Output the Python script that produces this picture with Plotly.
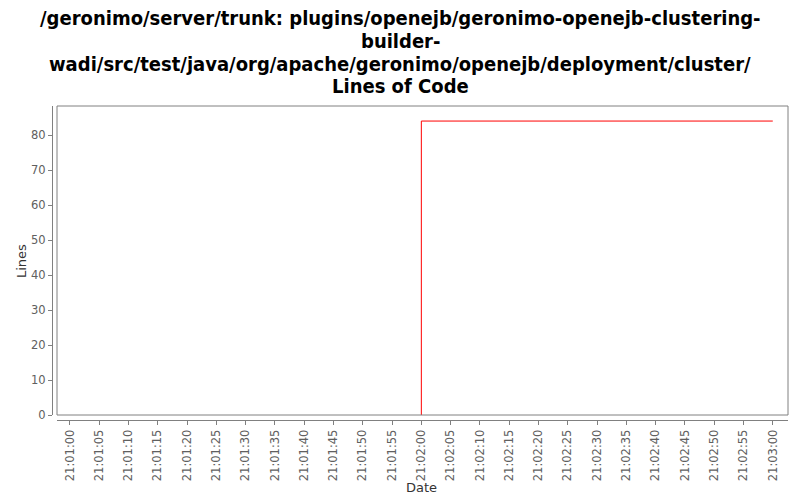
import plotly.graph_objects as go

title_lines = [
    "/geronimo/server/trunk: plugins/openejb/geronimo-openejb-clustering-",
    "builder-",
    "wadi/src/test/java/org/apache/geronimo/openejb/deployment/cluster/",
    "Lines of Code",
]
x_title = "Date"
y_title = "Lines"
dates = ["2007-06-01 21:02:00", "2007-06-01 21:03:00"]
lines = [0, 84]
x_range = ["2007-06-01 21:00:57.8", "2007-06-01 21:03:02.6"]
y_range = [0, 88.3]

W, H = 800, 500
ml, mr, mt, mb = 52, 12, 106, 80
pw, ph = W - ml - mr, H - mt - mb
gap = 5
title_centers_px = [18, 41, 64, 86]

fig = go.Figure()
fig.add_trace(go.Scatter(
    x=dates, y=lines, mode="lines", line=dict(color="#ff0000", width=1, shape="vh"),
    showlegend=False, hoverinfo="x+y",
))

tick_font = dict(family="DejaVu Sans, sans-serif", size=11.5, color="#606060")
axis_title_font = dict(family="DejaVu Sans, sans-serif", size=13, color="#333333")
annotations = []
for txt, cy in zip(title_lines, title_centers_px):
    annotations.append(dict(
        text=txt, showarrow=False,
        xref="paper", yref="paper", x=(W / 2 - ml) / pw,
        xanchor="center", y=1 + (mt - cy) / ph, yanchor="middle",
        font=dict(family="DejaVu Sans Condensed, sans-serif", size=20, color="black", weight="bold"),
    ))
# axis titles
annotations.append(dict(
    text=x_title, showarrow=False, xref="paper", yref="paper",
    x=(421 - ml) / pw, xanchor="center", y=-(487 - mt - ph) / ph, yanchor="middle",
    font=axis_title_font,
))
annotations.append(dict(
    text=y_title, showarrow=False, xref="paper", yref="paper", textangle=-90,
    x=-(ml - 21) / pw, xanchor="center", y=(mt + ph - 261) / ph, yanchor="middle",
    font=axis_title_font,
))

fig.update_layout(
    width=W, height=H,
    margin=dict(l=ml, r=mr, t=mt, b=mb, autoexpand=False),
    paper_bgcolor="white", plot_bgcolor="white",
    xaxis=dict(
        domain=[gap / pw, 1], range=x_range, type="date", automargin=False,
        anchor="free", position=0,
        tickformat="%H:%M:%S", dtick=5000, tick0="2007-06-01 21:01:00",
        tickangle=-90, tickfont=tick_font,
        ticks="outside", ticklen=4, tickcolor="#808080",
        showline=True, linecolor="#808080", linewidth=1,
        showgrid=False, zeroline=False,
    ),
    yaxis=dict(
        domain=[gap / ph, 1], range=y_range, automargin=False,
        anchor="free", position=0,
        dtick=10, tickfont=tick_font,
        ticks="outside", ticklen=4, tickcolor="#808080",
        showline=True, linecolor="#808080", linewidth=1,
        showgrid=False, zeroline=False,
    ),
    shapes=[dict(type="rect", xref="x domain", yref="y domain", x0=0, x1=1, y0=0, y1=1,
                 line=dict(color="#808080", width=1), fillcolor="rgba(0,0,0,0)", layer="above")],
    annotations=annotations,
)

fig.write_html("out.html", config={"displayModeBar": False},
               post_script="document.body.style.margin='0';")
